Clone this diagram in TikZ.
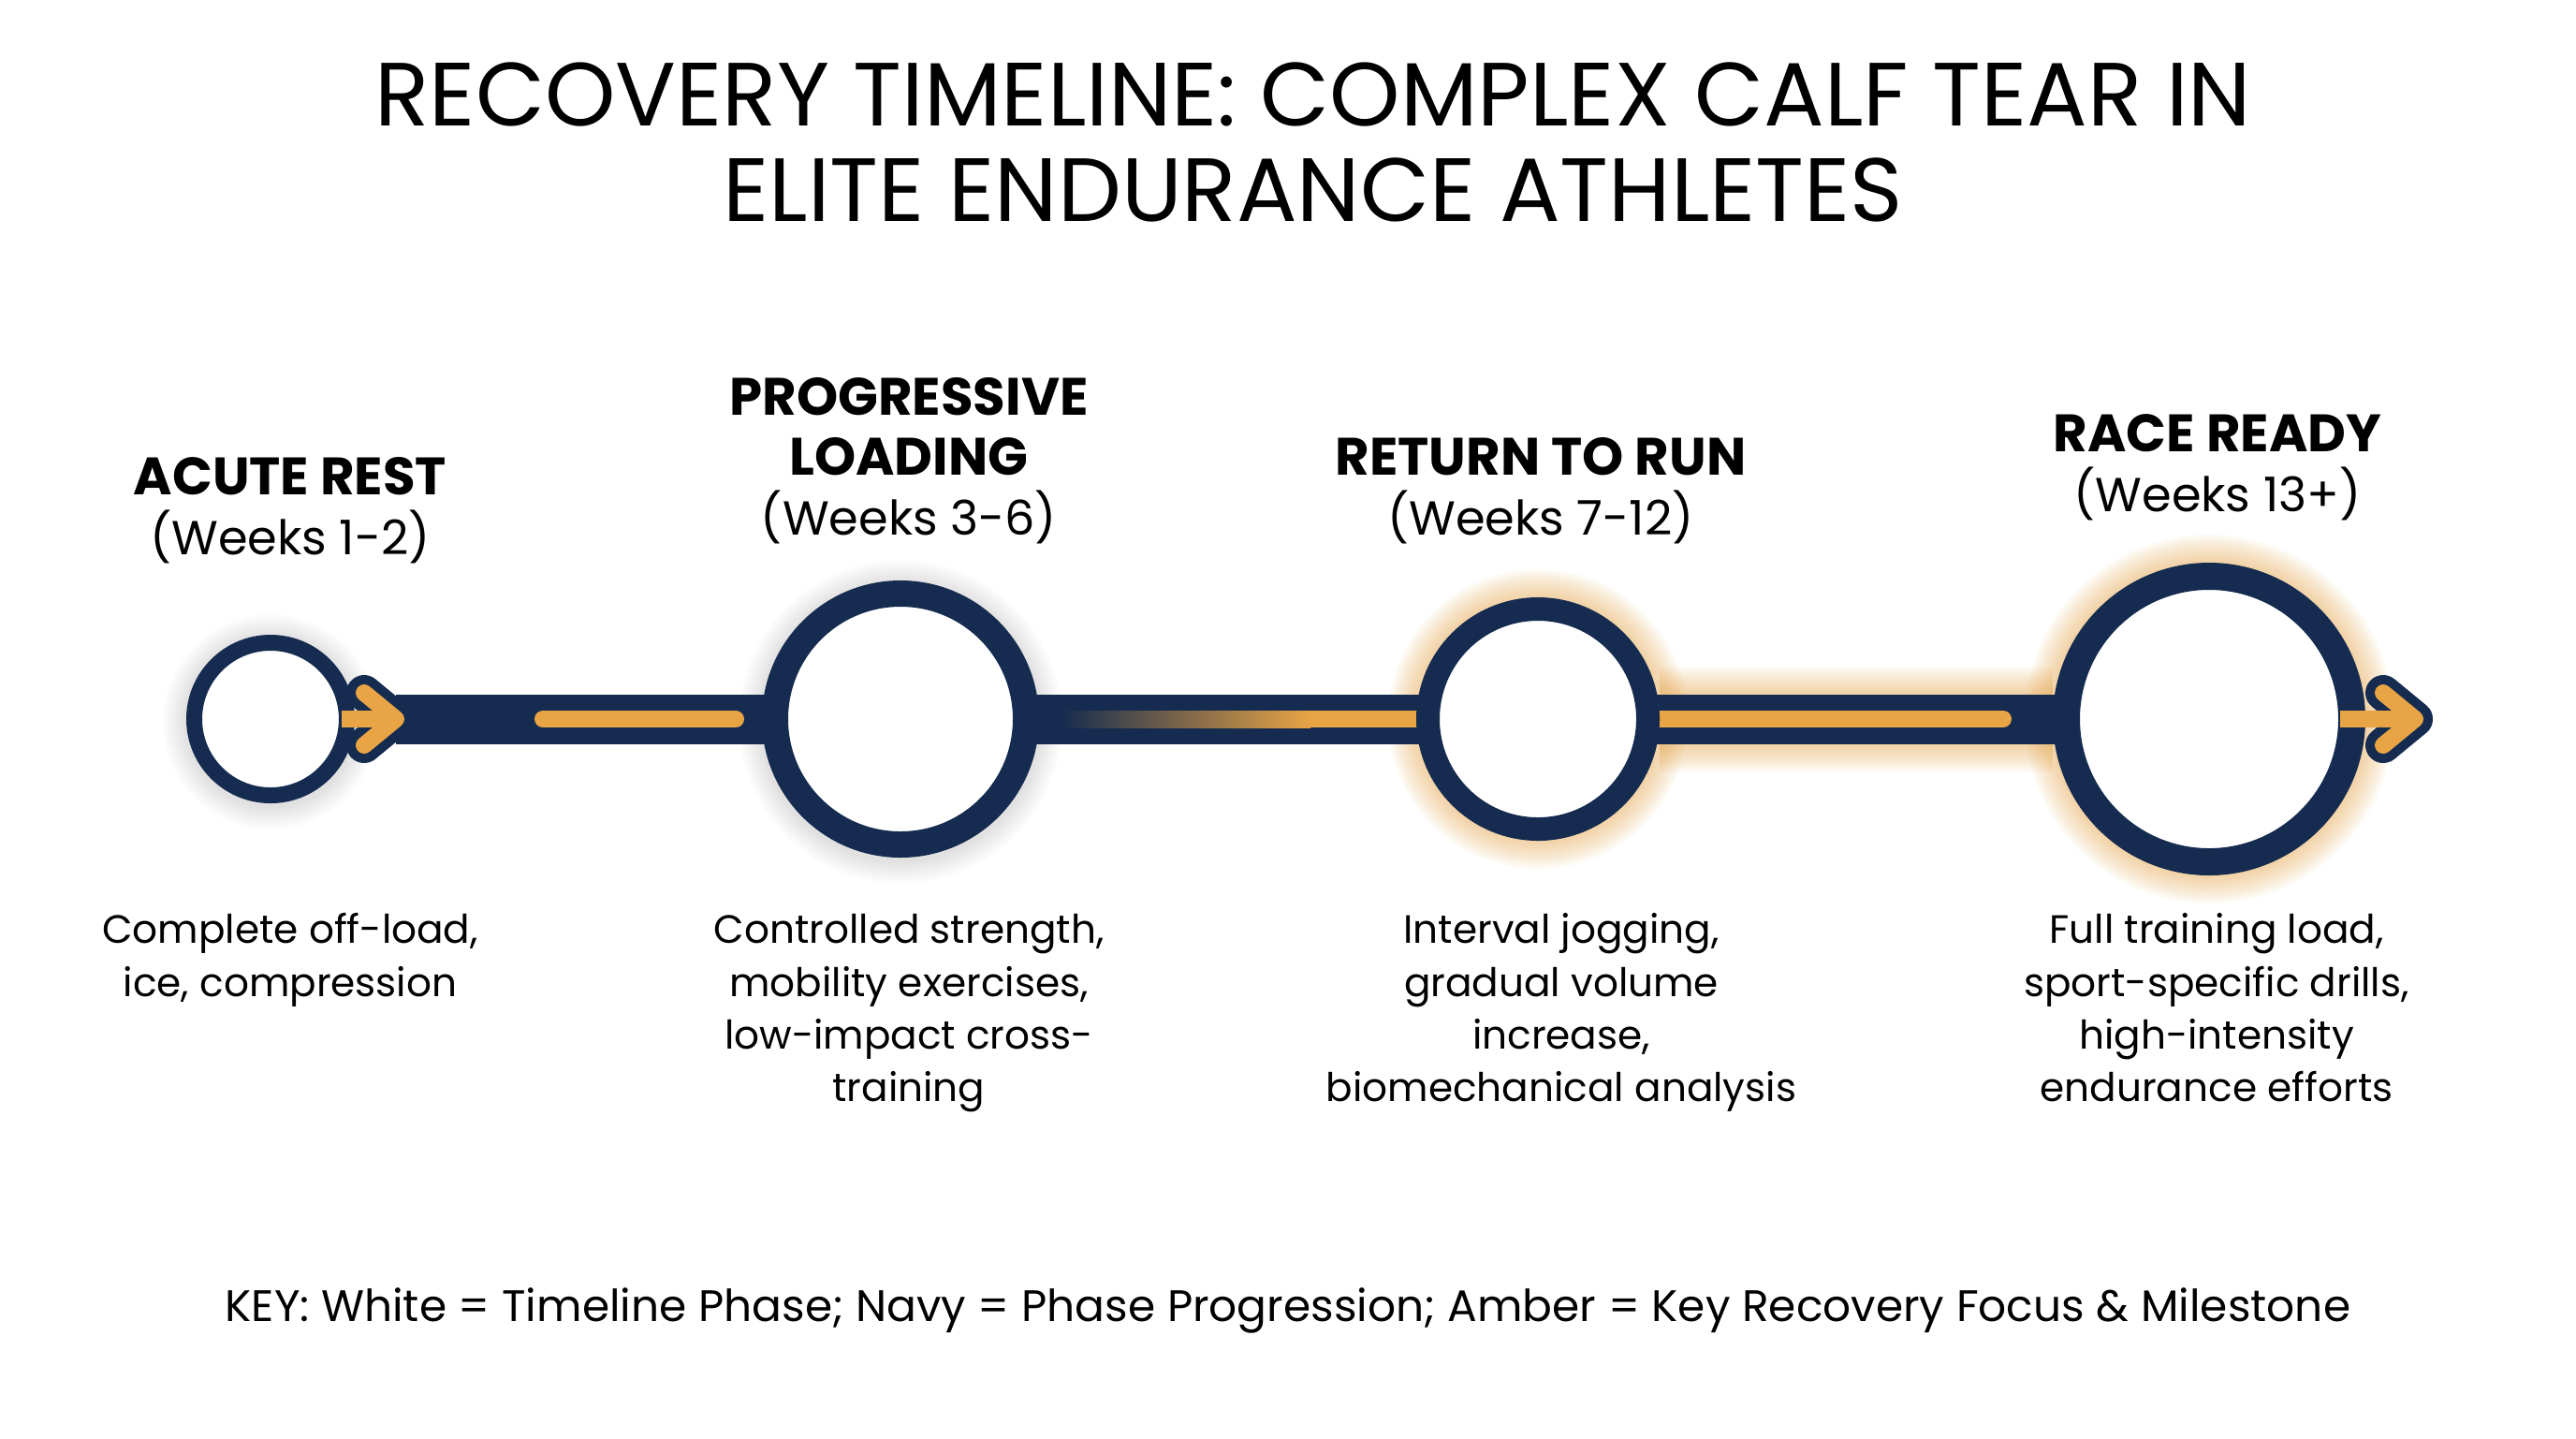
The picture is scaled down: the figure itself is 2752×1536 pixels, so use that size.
\documentclass[tikz,border=0pt]{standalone}
\usepackage{fontspec}
\setmainfont{Poppins}
\usetikzlibrary{positioning,backgrounds}
\definecolor{navy}{HTML}{152B4F}
\definecolor{amber}{HTML}{E8A445}
\newcommand{\weeksfont}{\fontsize{14.5}{18.2}\selectfont}

\begin{document}
\begin{tikzpicture}[x=0.1mm,y=-0.1mm,
    phase/.style={circle,draw=navy,fill=white,inner sep=0pt},
    heading/.style={align=center,font=\fontsize{16}{18.2}\selectfont},
    detail/.style={align=center,anchor=north,font=\fontsize{12}{16}\selectfont},
    track/.style={draw=navy,line width=5.3mm},
    stripe/.style={draw=amber,line width=1.8mm,line cap=round},
    chevron/.style={draw=navy,line width=3.8mm,line cap=round,line join=round},
    glow/.style={amber,opacity=0.055}]
  \useasboundingbox (0,0) rectangle (2752,1536);

  \node[font=\fontsize{27.3}{29}\selectfont,align=center] (title) at (1403,152)
    {RECOVERY TIMELINE: COMPLEX CALF TEAR IN\\ELITE ENDURANCE ATHLETES};

  % phase circles
  \node[phase,minimum size=16.3mm,line width=1.7mm] (acute) at (289,768) {};
  \node[phase,minimum size=26.8mm,line width=2.8mm] (loading) at (962,768) {};
  \node[phase,minimum size=23.5mm,line width=2.5mm] (return) at (1643,768) {};
  \node[phase,minimum size=30.5mm,line width=2.9mm] (race) at (2360,768) {};

  \coordinate (tip1) at (423,768);
  \coordinate (tip2) at (2580,768);
  \coordinate (dash1) at (580,768);
  \coordinate (dash2) at (786,768);
  \coordinate (fade1) at (1132,759);
  \coordinate (fade2) at (1400,777);
  \coordinate (fade3) at (1400,768);
  \coordinate (lit) at (2140,768);

  \begin{scope}[on background layer]
    \fill[white] (0,0) rectangle (2752,1536);
    % soft shadows and glow
    \foreach \k in {1,...,10} {
      \fill[black,opacity=0.012] ([yshift=-0.3mm]acute) circle[radius=9mm+\k*0.25mm];
      \fill[black,opacity=0.012] ([yshift=-0.3mm]loading) circle[radius=14.8mm+\k*0.25mm];
      \fill[glow] (return) circle[radius=13mm+\k*0.3mm];
      \fill[glow] (race) circle[radius=16.7mm+\k*0.3mm];
      \draw[glow,line width=5.3mm+\k*0.6mm] (return) -- (race);
    }
    \draw[track] (tip1) -- (loading.center) -- (return.center) -- (race.center);
    \draw[stripe] (dash1) -- (dash2);
    \shade[left color=navy,right color=amber] (fade1) rectangle (fade2);
    \draw[amber,line width=1.8mm] (fade3) -- (return.center);
    \draw[stripe] (return.center) -- (lit);
  \end{scope}

  % arrow heads
  \draw[chevron] ([shift={(-34,-28)}]tip1) -- (tip1) -- ([shift={(-34,28)}]tip1);
  \draw[amber,line width=1.8mm] (acute.center) ++(76,0) -- (tip1);
  \draw[stripe,line join=round] ([shift={(-34,-28)}]tip1) -- (tip1) -- ([shift={(-34,28)}]tip1);

  \draw[chevron] ([shift={(-34,-28)}]tip2) -- (tip2) -- ([shift={(-34,28)}]tip2);
  \draw[amber,line width=1.8mm] (race.center) ++(140,0) -- (tip2);
  \draw[stripe,line join=round] ([shift={(-34,-28)}]tip2) -- (tip2) -- ([shift={(-34,28)}]tip2);

  % labels
  \node[heading] (acutelbl) at (310,545) {\textbf{ACUTE REST}\\{\weeksfont(Weeks 1-2)}};
  \node[heading] (loadinglbl) at (971,492) {\textbf{PROGRESSIVE}\\\textbf{LOADING}\\{\weeksfont(Weeks 3-6)}};
  \node[heading] (returnlbl) at (1646,524) {\textbf{RETURN TO RUN}\\{\weeksfont(Weeks 7-12)}};
  \node[heading] (racelbl) at (2369,499) {\textbf{RACE READY}\\{\weeksfont(Weeks 13+)}};

  \node[detail] (acutetxt) at (310,956) {\strut Complete off-load,\\ice, compression};
  \node[detail] (loadingtxt) at (971,956) {\strut Controlled strength,\\mobility exercises,\\low-impact cross-\\training};
  \node[detail] (returntxt) at (1668,956) {\strut Interval jogging,\\gradual volume\\increase,\\biomechanical analysis};
  \node[detail] (racetxt) at (2368,956) {\strut Full training load,\\sport-specific drills,\\high-intensity\\endurance efforts};

  \node[font=\fontsize{13.4}{16}\selectfont] (key) at (1376,1400) {KEY: White = Timeline Phase; Navy = Phase Progression; Amber = Key Recovery Focus \& Milestone};
\end{tikzpicture}
\end{document}
